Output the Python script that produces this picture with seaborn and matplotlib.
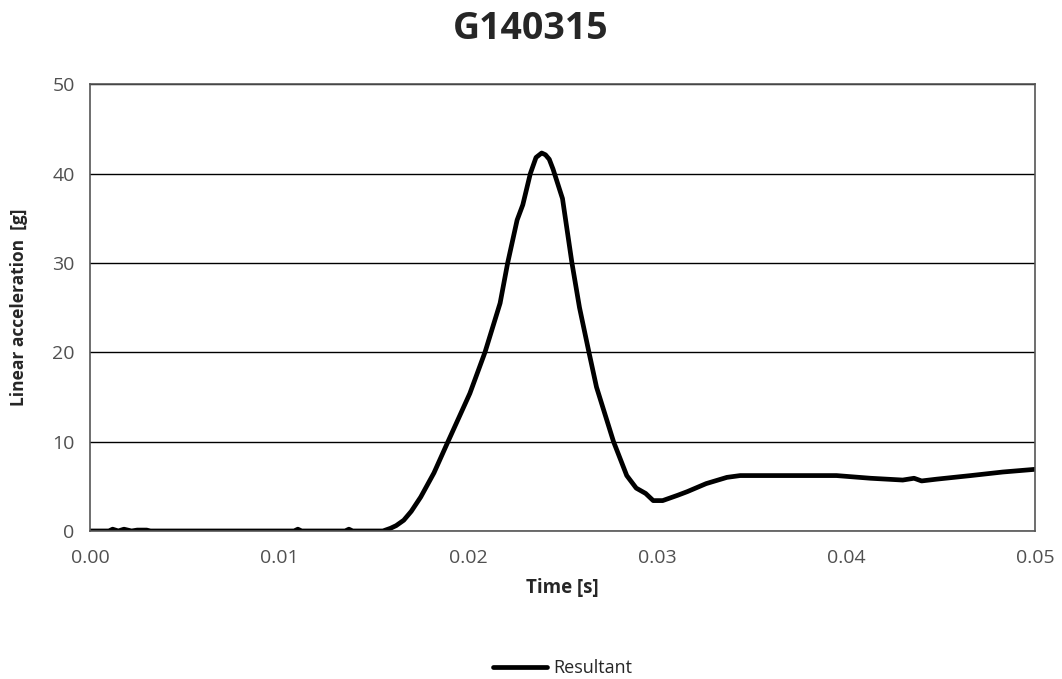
import matplotlib.pyplot as plt
import numpy as np
import seaborn as sns
import pandas as pd

# time [s] and resultant linear acceleration [g]
time_s = [0.0000, 0.0010, 0.0012, 0.0015, 0.0018, 0.0022, 0.0025, 0.0030, 0.0032,
          0.0060, 0.0108, 0.0110, 0.0112, 0.0135, 0.0137, 0.0139, 0.0155, 0.0159,
          0.0162, 0.0166, 0.0170, 0.0175, 0.0182, 0.0189, 0.0195, 0.0201, 0.0209,
          0.0217, 0.0221, 0.0226, 0.0229, 0.0233, 0.0236, 0.0239, 0.0241, 0.0243,
          0.0245, 0.0250, 0.0255, 0.0259, 0.0264, 0.0268, 0.0277, 0.0284, 0.0289,
          0.0294, 0.0298, 0.0303, 0.0307, 0.0311, 0.0316, 0.0326, 0.0337, 0.0344,
          0.0370, 0.0395, 0.0413, 0.0430, 0.0436, 0.0440, 0.0448, 0.0466, 0.0483,
          0.0500]
accel_g = [0.0, 0.0, 0.2, 0.0, 0.2, 0.0, 0.1, 0.1, 0.0,
           0.0, 0.0, 0.2, 0.0, 0.0, 0.2, 0.0, 0.0, 0.3,
           0.6, 1.2, 2.2, 3.8, 6.5, 9.8, 12.6, 15.4, 20.0,
           25.5, 30.0, 34.8, 36.5, 40.0, 41.8, 42.3, 42.1, 41.6,
           40.5, 37.2, 30.0, 25.0, 20.0, 16.1, 10.0, 6.2, 4.8,
           4.2, 3.4, 3.4, 3.7, 4.0, 4.4, 5.3, 6.0, 6.2,
           6.2, 6.2, 5.9, 5.7, 5.9, 5.6, 5.8, 6.2, 6.6,
           6.9]
series_name = 'Resultant'
chart_title = 'G140315'

df = pd.DataFrame({'Time': time_s, 'Accel': accel_g, 'series': series_name})

sns.set_style('white')
plt.rcParams['font.family'] = ['Open Sans', 'DejaVu Sans']

fig = plt.figure(figsize=(10.62, 6.79), dpi=100)
ax = fig.add_axes([0.0847, 0.218, 0.8899, 0.658])

sns.lineplot(data=df, x='Time', y='Accel', hue='series', palette=['black'],
             linewidth=3.4, ax=ax, legend=True)

ax.set_xlim(0, 0.05)
ax.set_ylim(0, 50)
ax.set_xticks(np.arange(0, 0.0501, 0.01))
ax.set_xticklabels(['%.2f' % v for v in np.arange(0, 0.0501, 0.01)])
ax.set_yticks(range(0, 51, 10))
ax.yaxis.grid(True, color='black', linewidth=1.0)
ax.set_axisbelow(True)
ax.tick_params(axis='x', labelsize=14, colors='#505050', length=0, pad=13)
ax.tick_params(axis='y', labelsize=14, colors='#505050', length=0, pad=11)

for spine in ax.spines.values():
    spine.set_color('#555555')
    spine.set_linewidth(1.2)

ax.set_xlabel('Time [s]', fontsize=13.5, fontweight='bold')
ax.set_ylabel('Linear acceleration  [g]', fontsize=12.5, fontweight='bold')
ax.xaxis.set_label_coords(0.5, -0.105)
ax.yaxis.set_label_coords(-0.066, 0.5)
fig.text(0.5, 0.958, chart_title, fontsize=27, fontweight='bold',
         ha='center', va='center')

legend = ax.legend(loc='center', bbox_to_anchor=(0.5, -0.307), frameon=False,
                   fontsize=13, handlelength=3.0, handletextpad=0.3)
for line in legend.get_lines():
    line.set_linewidth(3.4)

fig.savefig('out.png', dpi=100)
